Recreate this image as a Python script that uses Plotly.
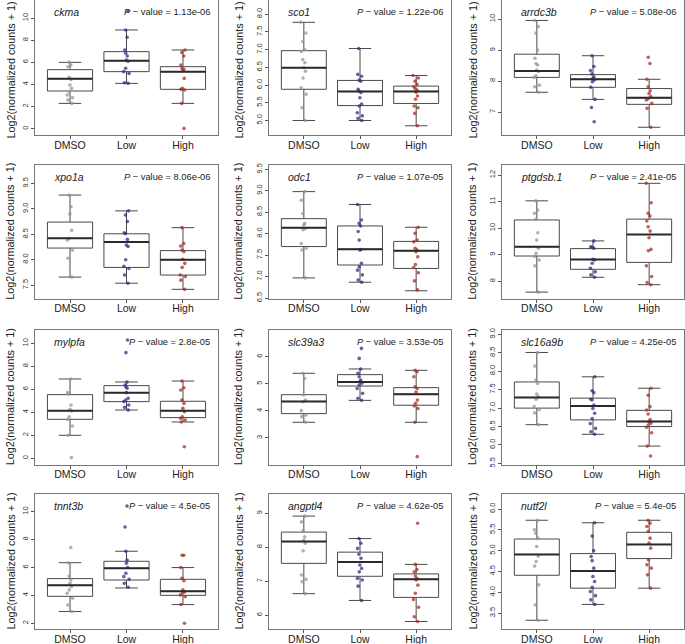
import plotly.graph_objects as go

# ---------------- data ----------------
groups = ["DMSO", "Low", "High"]
genes = ["ckma", "sco1", "arrdc3b", "xpo1a", "odc1", "ptgdsb.1",
         "mylpfa", "slc39a3", "slc16a9b", "tnnt3b", "angptl4", "nutf2l"]
pvalues = ["1.13e-06", "1.22e-06", "5.08e-06", "8.06e-06", "1.07e-05", "2.41e-05",
           "2.8e-05", "3.53e-05", "4.25e-05", "4.5e-05", "4.62e-05", "5.4e-05"]

# box statistics per gene: [DMSO, Low, High]
lower_whisker = [[2.29, 4.10, 2.29], [5.00, 5.00, 4.85], [7.64, 7.41, 6.51],
                 [7.66, 7.54, 7.42], [6.97, 6.87, 6.67], [7.59, 8.15, 7.87],
                 [2.00, 4.20, 3.16], [3.58, 4.39, 3.58], [6.55, 6.29, 5.97],
                 [2.84, 4.53, 3.34], [6.64, 6.44, 5.82], [3.33, 3.71, 4.10]]
q1 = [[3.41, 5.16, 3.56], [5.88, 5.42, 5.48], [8.12, 7.80, 7.25],
      [8.23, 7.85, 7.70], [7.70, 7.27, 7.19], [8.95, 8.45, 8.71],
      [3.39, 4.93, 3.54], [3.90, 4.92, 4.21], [7.00, 6.68, 6.50],
      [3.93, 5.10, 4.00], [7.53, 7.15, 6.53], [4.41, 4.10, 4.81]]
median = [[4.52, 6.15, 5.16], [6.49, 5.82, 5.82], [8.33, 8.06, 7.46],
          [8.42, 8.35, 8.00], [8.14, 7.64, 7.60], [9.30, 8.82, 9.76],
          [4.14, 5.71, 4.14], [4.35, 5.07, 4.62], [7.29, 7.06, 6.64],
          [4.72, 5.94, 4.29], [8.17, 7.57, 7.06], [4.91, 4.51, 5.15]]
q3 = [[5.34, 6.97, 5.61], [6.97, 6.13, 5.97], [8.87, 8.21, 7.76],
      [8.74, 8.51, 8.18], [8.35, 8.18, 7.82], [10.31, 9.23, 10.34],
      [5.54, 6.32, 4.96], [4.60, 5.34, 4.86], [7.71, 7.27, 6.94],
      [5.20, 6.44, 5.15], [8.45, 7.86, 7.22], [5.28, 4.93, 5.44]]
upper_whisker = [[6.00, 8.93, 7.12], [7.77, 7.03, 6.27], [9.96, 8.82, 8.06],
                 [9.27, 8.96, 8.63], [8.98, 8.68, 8.15], [11.03, 9.52, 11.69],
                 [6.90, 6.64, 6.72], [5.39, 5.55, 5.50], [8.51, 7.85, 7.54],
                 [6.34, 7.16, 5.99], [8.92, 8.26, 7.50], [5.73, 5.67, 5.73]]

dmso_points = [
    [6.0, 5.76, 5.6, 4.65, 4.46, 3.95, 3.65, 3.35, 3.05, 2.8, 2.6, 2.29],
    [7.77, 7.47, 7.23, 7.0, 6.95, 6.72, 6.63, 6.49, 6.39, 6.2, 5.92, 5.74, 5.36, 5.0],
    [9.96, 9.76, 9.55, 9.0, 8.74, 8.57, 8.52, 8.36, 8.31, 8.17, 8.12, 7.87, 7.82, 7.64],
    [9.27, 9.04, 8.9, 8.58, 8.42, 8.39, 8.19, 8.03, 7.66],
    [8.98, 8.78, 8.47, 8.24, 8.2, 8.12, 8.09, 7.77, 7.66, 7.62, 6.97],
    [11.03, 10.68, 10.56, 10.33, 9.83, 9.55, 9.24, 9.05, 8.93, 8.8, 8.58, 7.59],
    [6.9, 5.71, 5.59, 4.64, 4.26, 4.12, 3.62, 3.39, 2.81, 2.0, 0.06],
    [5.39, 5.2, 4.59, 4.4, 4.34, 4.01, 3.85, 3.79, 3.58],
    [8.51, 8.14, 7.76, 7.67, 7.38, 7.31, 7.24, 7.04, 6.96, 6.87, 6.55],
    [7.42, 6.34, 5.39, 5.1, 4.86, 4.63, 4.39, 4.15, 3.79, 3.31, 2.84],
    [8.92, 8.75, 8.49, 8.31, 8.21, 8.12, 7.9, 7.19, 7.06, 6.99, 6.64],
    [5.73, 5.5, 5.42, 5.3, 5.1, 4.87, 4.74, 4.63, 4.18, 3.7, 3.33],
]
low_points = [
    [10.65, 8.93, 8.27, 7.12, 6.82, 6.58, 6.2, 6.1, 5.46, 5.16, 5.0, 4.16, 4.1],
    [7.03, 6.3, 6.25, 6.14, 6.11, 5.88, 5.83, 5.79, 5.64, 5.46, 5.41, 5.22, 5.13, 5.06, 5.0],
    [8.82, 8.47, 8.34, 8.23, 8.14, 8.09, 8.04, 7.98, 7.8, 7.41, 7.15, 6.69],
    [8.96, 8.88, 8.75, 8.53, 8.51, 8.4, 8.29, 8.26, 8.0, 7.87, 7.83, 7.7, 7.54],
    [8.68, 8.32, 8.24, 8.18, 8.05, 7.85, 7.63, 7.62, 7.31, 7.23, 7.15, 7.04, 6.92, 6.87],
    [9.52, 9.3, 9.28, 9.24, 8.83, 8.8, 8.68, 8.49, 8.36, 8.24, 8.15],
    [10.29, 9.19, 6.64, 6.38, 6.23, 6.09, 5.71, 5.22, 5.07, 4.93, 4.64, 4.43, 4.2],
    [6.31, 5.94, 5.55, 5.39, 5.26, 5.14, 5.08, 5.02, 4.96, 4.83, 4.65, 4.47, 4.39],
    [7.85, 7.47, 7.42, 7.24, 7.22, 7.08, 6.99, 6.86, 6.72, 6.58, 6.45, 6.36, 6.29],
    [10.4, 8.9, 7.16, 6.53, 6.3, 6.0, 5.58, 5.34, 5.15, 4.86, 4.58],
    [8.26, 8.12, 7.97, 7.8, 7.68, 7.48, 7.38, 7.28, 7.09, 7.04, 6.86, 6.44],
    [5.67, 5.35, 5.0, 4.86, 4.76, 4.58, 4.38, 4.26, 4.12, 4.02, 3.92, 3.82, 3.71],
]
high_points = [
    [7.12, 6.9, 6.58, 5.76, 5.46, 5.37, 5.25, 4.55, 3.65, 3.56, 3.5, 2.29, 0.03],
    [6.27, 6.2, 6.11, 6.02, 5.95, 5.9, 5.86, 5.8, 5.69, 5.6, 5.41, 5.36, 5.2, 4.85],
    [8.77, 8.57, 8.06, 7.82, 7.69, 7.6, 7.5, 7.44, 7.39, 7.28, 7.12, 6.51],
    [8.63, 8.32, 8.27, 8.19, 8.16, 8.01, 7.93, 7.85, 7.7, 7.67, 7.6, 7.42],
    [8.15, 8.01, 7.85, 7.81, 7.66, 7.62, 7.58, 7.46, 7.28, 7.21, 7.09, 6.9, 6.69],
    [11.69, 10.96, 10.56, 10.46, 10.27, 10.05, 9.89, 9.64, 9.2, 9.15, 8.58, 8.18, 7.95, 7.87],
    [6.72, 6.14, 5.94, 5.07, 4.78, 4.35, 4.06, 3.62, 3.48, 3.33, 3.16, 1.01],
    [5.5, 5.45, 5.26, 4.89, 4.83, 4.7, 4.4, 4.28, 4.18, 4.09, 3.58, 2.31],
    [7.54, 7.35, 7.04, 6.95, 6.84, 6.69, 6.63, 6.59, 6.54, 6.48, 6.33, 5.97, 5.7],
    [6.87, 6.87, 5.99, 5.22, 5.05, 4.39, 4.24, 4.15, 4.03, 3.91, 3.34, 2.0],
    [8.71, 7.5, 7.35, 7.28, 7.16, 7.09, 7.04, 6.89, 6.65, 6.47, 6.24, 5.96, 5.82],
    [5.73, 5.66, 5.58, 5.46, 5.3, 5.18, 5.06, 4.78, 4.66, 4.58, 4.42, 4.1],
]

# ---------------- layout settings ----------------
W, H = 685, 644
col_px = [(35, 218), (269, 451), (502, 684)]
row_px = [(0, 135), (165, 298.5), (330, 464.5), (494, 629)]
ytitle_x = [10, 238, 472]
ytitle_shift = [3, 0, 0, 0]   # keep the first row's title inside the page
y_ranges = [[-0.57, 11.64], [4.59, 8.40], [6.26, 10.62],
            [7.24, 9.86], [6.49, 9.60], [7.35, 12.38],
            [-0.54, 11.16], [2.02, 6.99], [5.47, 9.12],
            [1.59, 11.26], [5.60, 9.57], [3.12, 6.36]]
y_dticks = [2, 0.5, 1, 0.5, 0.5, 1, 2, 1, 0.5, 2, 1, 0.5]
point_colors = ["rgba(150,150,150,0.75)", "rgba(45,45,135,0.75)", "rgba(165,45,35,0.75)"]
FONT = "Liberation Sans, Arial, sans-serif"
BOX_W = 0.8

fig = go.Figure()
annotations = []
layout_axes = {}

for i, gene in enumerate(genes):
    r, c = divmod(i, 3)
    suf = "" if i == 0 else str(i + 1)
    xa, ya = "x" + suf, "y" + suf
    pos = [1, 2, 3]

    fig.add_trace(go.Box(
        x=pos, q1=q1[i], median=median[i], q3=q3[i],
        lowerfence=lower_whisker[i], upperfence=upper_whisker[i],
        width=BOX_W, whiskerwidth=0.5, boxpoints=False,
        fillcolor="white", line=dict(color="#4a4a4a", width=1),
        xaxis=xa, yaxis=ya, hoverinfo="skip", showlegend=False))

    mx, my = [], []
    for g, m in zip(pos, median[i]):
        mx += [g - BOX_W / 2, g + BOX_W / 2, None]
        my += [m, m, None]
    fig.add_trace(go.Scatter(x=mx, y=my, mode="lines",
                             line=dict(color="#2a2a2a", width=2),
                             xaxis=xa, yaxis=ya, hoverinfo="skip", showlegend=False))

    for g, pts, col in zip(pos, [dmso_points[i], low_points[i], high_points[i]], point_colors):
        fig.add_trace(go.Box(
            x=[g] * len(pts), y=pts, boxpoints="all", jitter=0.15, pointpos=0,
            width=BOX_W, whiskerwidth=0,
            fillcolor="rgba(0,0,0,0)", line=dict(color="rgba(0,0,0,0)", width=0),
            marker=dict(color=col, size=3.6),
            xaxis=xa, yaxis=ya, hoverinfo="skip", showlegend=False))

    x0, x1 = col_px[c]
    y0, y1 = row_px[r]
    dt = y_dticks[i]
    layout_axes["xaxis" + suf] = dict(
        domain=[x0 / W, x1 / W], anchor=ya, range=[0.38, 3.62], automargin=False,
        tickmode="array", tickvals=pos, ticktext=groups,
        ticks="outside", ticklen=3, tickcolor="#555", ticklabelstandoff=-3,
        showline=True, mirror=True, linecolor="#777", linewidth=1,
        showgrid=False, zeroline=False,
        tickfont=dict(size=10.5, color="#222", family=FONT))
    layout_axes["yaxis" + suf] = dict(
        domain=[1 - y1 / H, 1 - y0 / H], anchor=xa, range=y_ranges[i], automargin=False,
        tick0=0, dtick=dt, tickformat=".1f" if dt < 1 else "d",
        tickangle=-90, ticks="outside", ticklen=3, tickcolor="#555",
        showline=True, mirror=True, linecolor="#777", linewidth=1,
        showgrid=False, zeroline=False,
        tickfont=dict(size=7.5, color="#333", family=FONT))

    annotations.append(dict(
        xref=xa + " domain", yref=ya + " domain", x=0.095, y=1 - 12 / 134,
        xanchor="left", yanchor="middle", showarrow=False,
        text="<i>" + gene + "</i>", font=dict(size=10.5, color="#222", family=FONT)))
    annotations.append(dict(
        xref=xa + " domain", yref=ya + " domain", x=0.968, y=1 - 12 / 134,
        xanchor="right", yanchor="middle", showarrow=False,
        text="<i>P</i> \u2212 value = " + pvalues[i],
        font=dict(size=9.3, color="#222", family=FONT)))
    annotations.append(dict(
        xref="paper", yref="paper", x=ytitle_x[c] / W,
        y=1 - ((y0 + y1) / 2 + ytitle_shift[r]) / H,
        xanchor="center", yanchor="middle", showarrow=False, textangle=-90,
        text="Log2(normalized counts + 1)",
        font=dict(size=10.8, color="#222", family=FONT)))

fig.update_layout(
    template="none",
    width=W, height=H, autosize=False,
    margin=dict(l=0, r=0, t=0, b=0, pad=0),
    paper_bgcolor="white", plot_bgcolor="white",
    showlegend=False, boxmode="overlay",
    font=dict(family=FONT),
    annotations=annotations,
    **layout_axes)

fig.write_html("out.html", config={"displayModeBar": False, "staticPlot": True},
               post_script="document.body.style.margin='0';document.body.style.overflow='hidden';")
